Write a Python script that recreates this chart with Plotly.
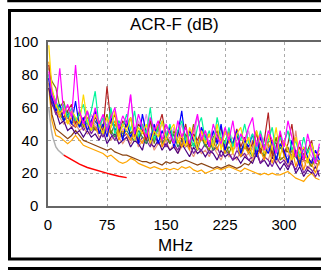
import plotly.graph_objects as go

# ---------------- data ----------------
freq = [1] + list(range(5, 350, 5))  # MHz, 70 points

magenta = [82, 68, 62, 84, 56, 62, 54, 86, 58, 50,
           58, 48, 60, 50, 56, 46, 54, 60, 47, 55,
           50, 68, 44, 56, 48, 42, 54, 46, 52, 40,
           50, 44, 38, 52, 42, 48, 38, 46, 56, 40,
           46, 36, 50, 42, 38, 48, 40, 52, 36, 44,
           40, 48, 54, 36, 44, 34, 46, 40, 32, 46,
           36, 52, 42, 30, 40, 28, 44, 34, 26, 38]
blue = [78, 66, 58, 62, 52, 56, 50, 64, 48, 54,
        46, 52, 58, 44, 50, 42, 54, 46, 50, 40,
        52, 42, 48, 38, 56, 44, 40, 50, 38, 46,
        40, 48, 36, 44, 58, 38, 46, 40, 34, 48,
        42, 36, 46, 38, 50, 34, 42, 38, 46, 32,
        40, 36, 44, 30, 42, 36, 32, 40, 28, 38,
        34, 26, 40, 32, 24, 36, 30, 26, 34, 28]
springgreen = [80, 70, 64, 58, 62, 54, 60, 52, 56, 62,
               50, 58, 70, 48, 54, 46, 60, 44, 52, 48,
               56, 46, 58, 42, 50, 44, 60, 40, 48, 52,
               42, 50, 38, 46, 52, 40, 44, 36, 48, 54,
               40, 46, 36, 54, 42, 38, 48, 36, 44, 40,
               50, 38, 44, 34, 46, 36, 40, 48, 32, 42,
               38, 46, 34, 40, 30, 42, 32, 38, 28, 36]
gold = [98, 72, 62, 56, 60, 50, 58, 54, 50, 68,
        52, 46, 56, 50, 44, 54, 48, 58, 42, 50,
        46, 54, 40, 48, 44, 50, 38, 46, 42, 52,
        40, 46, 50, 38, 44, 36, 48, 42, 34, 46,
        38, 44, 36, 50, 34, 46, 40, 32, 44, 48,
        36, 42, 30, 46, 38, 32, 44, 34, 48, 30,
        40, 34, 28, 42, 32, 36, 26, 38, 30, 34]
olive = [84, 76, 72, 60, 64, 54, 56, 50, 58, 48,
         54, 50, 46, 52, 48, 56, 44, 50, 46, 42,
         50, 44, 48, 40, 46, 42, 52, 38, 48, 40,
         44, 38, 46, 40, 36, 44, 38, 50, 36, 42,
         38, 34, 42, 46, 36, 40, 32, 38, 44, 34,
         38, 32, 36, 44, 34, 30, 38, 32, 42, 28,
         30, 36, 28, 34, 26, 32, 28, 24, 30, 26]
firebrick = [86, 70, 62, 58, 54, 58, 62, 50, 56, 52,
             58, 48, 54, 50, 46, 73, 50, 56, 44, 52,
             48, 54, 42, 50, 46, 40, 52, 44, 48, 56,
             42, 48, 38, 46, 40, 50, 36, 44, 40, 46,
             38, 44, 36, 42, 48, 34, 40, 38, 47, 36,
             42, 34, 38, 46, 32, 40, 57, 30, 36, 44,
             32, 38, 50, 30, 36, 28, 34, 40, 28, 32]
violet = [80, 68, 62, 58, 60, 54, 58, 50, 56, 52,
          48, 56, 50, 46, 54, 48, 58, 44, 52, 46,
          50, 68, 44, 52, 46, 56, 42, 48, 44, 50,
          46, 40, 48, 42, 50, 38, 44, 40, 55, 42,
          46, 38, 44, 40, 36, 46, 38, 42, 34, 44,
          38, 46, 34, 40, 36, 42, 34, 38, 32, 44,
          34, 30, 40, 32, 36, 28, 34, 30, 26, 32]
indigo = [72, 62, 58, 50, 52, 46, 48, 44, 46, 42,
          46, 42, 44, 40, 46, 38, 42, 44, 38, 40,
          42, 36, 40, 38, 34, 44, 38, 36, 40, 34,
          38, 34, 36, 32, 38, 34, 30, 36, 32, 34,
          30, 34, 32, 28, 34, 30, 32, 28, 30, 26,
          30, 28, 26, 32, 26, 28, 24, 30, 26, 22,
          26, 22, 28, 20, 24, 18, 22, 20, 24, 18]
salmon = [76, 62, 56, 54, 50, 52, 48, 50, 46, 48,
          44, 46, 48, 42, 44, 46, 40, 44, 42, 38,
          42, 38, 44, 36, 40, 38, 42, 34, 38, 36,
          40, 34, 38, 32, 36, 38, 34, 30, 36, 32,
          34, 30, 36, 32, 28, 34, 30, 32, 28, 34,
          30, 32, 28, 34, 26, 30, 28, 36, 26, 30,
          28, 24, 30, 46, 26, 28, 22, 28, 24, 26]
darkviolet = [78, 64, 56, 58, 52, 54, 50, 48, 52, 46,
              50, 44, 48, 46, 42, 48, 44, 40, 46, 42,
              44, 40, 46, 38, 42, 40, 36, 44, 38, 40,
              36, 42, 38, 34, 40, 36, 38, 32, 36, 34,
              38, 32, 34, 36, 30, 34, 32, 28, 34, 30,
              32, 28, 30, 34, 26, 30, 28, 24, 30, 26,
              28, 24, 26, 22, 28, 20, 24, 22, 18, 22]
orange_spiky = [88, 68, 60, 54, 58, 50, 54, 48, 52, 50,
                46, 52, 48, 44, 50, 42, 48, 52, 40, 46,
                44, 40, 48, 42, 38, 46, 40, 44, 50, 36,
                42, 46, 38, 44, 36, 42, 34, 48, 38, 40,
                44, 36, 40, 34, 42, 32, 46, 34, 38, 30,
                36, 32, 40, 30, 34, 28, 38, 26, 34, 44,
                30, 26, 36, 24, 32, 22, 30, 26, 20, 28]
seagreen = [80, 66, 60, 56, 52, 58, 50, 54, 48, 52,
            50, 46, 52, 48, 44, 50, 46, 42, 48, 44,
            46, 42, 40, 46, 42, 38, 44, 40, 46, 38,
            42, 38, 44, 36, 40, 42, 36, 38, 34, 42,
            36, 40, 34, 38, 42, 32, 36, 34, 38, 30,
            38, 34, 30, 38, 44, 30, 36, 32, 28, 36,
            32, 28, 34, 30, 26, 32, 28, 24, 30, 26]
orange_low = [72, 52, 43, 42, 40, 38, 40, 43, 40, 37,
              36, 35, 34, 33, 32, 30, 31, 29, 27, 26,
              27, 29, 28, 26, 25, 24, 23, 24, 23, 22,
              23, 22, 23, 22, 24, 23, 24, 22, 21, 22,
              20, 21, 22, 23, 22, 23, 24, 23, 22, 21,
              23, 22, 21, 20, 19, 20, 19, 20, 19, 19,
              20, 21, 19, 17, 16, 15, 18, 20, 17, 16]
brown = [75, 56, 47, 45, 43, 41, 43, 46, 43, 40,
         39, 38, 37, 36, 35, 34, 35, 33, 32, 31,
         31, 30, 29, 28, 27, 27, 26, 27, 26, 25,
         27, 26, 27, 26, 27, 28, 27, 26, 25, 26,
         25, 24, 23, 24, 23, 24, 25, 24, 23, 24,
         26, 25, 28, 32, 35, 37, 39, 40, 38, 36,
         34, 33, 31, 30, 29, 28, 27, 28, 26, 25]

limit_gray_f = [1, 2, 3, 4, 6, 8, 10, 13, 16, 20]
limit_gray_db = [60, 55, 50, 47, 42, 39, 36, 34, 32.5, 31]
limit_red_f = [20, 25, 30, 40, 50, 60, 70, 80, 90, 100]
limit_red_db = [31, 29.5, 28, 25.5, 23.5, 22, 20.5, 19.3, 18.2, 17.3]

x_ticks = [0, 75, 150, 225, 300]
y_ticks = [0, 20, 40, 60, 80, 100]
title_text = "ACR-F (dB)"
x_label = "MHz"

# ---------------- figure ----------------
series = [
    (orange_low, "#ffa500"), (brown, "#8b4513"),
    (salmon, "#e9967a"), (indigo, "#4b0082"), (darkviolet, "#7b1fa2"),
    (seagreen, "#2e8b57"), (olive, "#808000"), (orange_spiky, "#ff9900"),
    (violet, "#e08ae8"), (firebrick, "#b22222"), (blue, "#0000ff"),
    (springgreen, "#00f59a"), (gold, "#ffd700"), (magenta, "#ff00ff"),
]

fig = go.Figure()
fig.add_trace(go.Scatter(x=limit_gray_f, y=limit_gray_db, mode="lines",
                         line=dict(color="#b0b0b0", width=1.5), hoverinfo="skip"))
for vals, col in series:
    fig.add_trace(go.Scatter(x=freq, y=vals, mode="lines",
                             line=dict(color=col, width=1.2), hoverinfo="skip"))
fig.add_trace(go.Scatter(x=limit_red_f, y=limit_red_db, mode="lines",
                         line=dict(color="#ff0000", width=1.5), hoverinfo="skip"))

W, H = 321, 270
L, R, T, B = 48, 0, 42, 64
pw, ph = W - L - R, H - T - B


def px(xp):
    return (xp - L) / pw


def py(yp):
    return (H - B - yp) / ph


font_family = "Liberation Sans, Arial, sans-serif"
fig.update_layout(
    width=W, height=H,
    margin=dict(l=L, r=R, t=T, b=B, pad=0),
    paper_bgcolor="white", plot_bgcolor="white",
    showlegend=False,
    font=dict(family=font_family, color="black", size=15),
    xaxis=dict(range=[0, 347], tickvals=x_ticks, showgrid=True,
               gridcolor="#aaaaaa", griddash="dot", gridwidth=1,
               showline=True, linecolor="#666666", linewidth=1.5, mirror=True,
               ticks="outside", ticklen=4, tickcolor="rgba(0,0,0,0)",
               zeroline=False, tickfont=dict(size=15)),
    yaxis=dict(range=[0, 100], tickvals=y_ticks, showgrid=True,
               gridcolor="#aaaaaa", griddash="dot", gridwidth=1,
               showline=True, linecolor="#666666", linewidth=1.5,
               ticks="outside", ticklen=5, tickcolor="rgba(0,0,0,0)",
               zeroline=False, tickfont=dict(size=15)),
    annotations=[
        dict(text=title_text, x=px(174.5), y=py(24.5), xref="paper", yref="paper",
             showarrow=False, xanchor="center", yanchor="middle",
             font=dict(size=17, family=font_family)),
        dict(text=x_label, x=px(175), y=py(245), xref="paper", yref="paper",
             showarrow=False, xanchor="center", yanchor="middle",
             font=dict(size=17, family=font_family)),
    ],
    shapes=[
        dict(type="rect", xref="paper", yref="paper", x0=px(8.5), x1=px(400),
             y0=py(-60), y1=py(1), line=dict(color="black", width=2.5)),
        dict(type="rect", xref="paper", yref="paper", x0=px(9.5), x1=px(400),
             y0=py(259), y1=py(10.5), line=dict(color="black", width=3)),
        dict(type="rect", xref="paper", yref="paper", x0=px(9.5), x1=px(400),
             y0=py(330), y1=py(268.5), line=dict(color="black", width=3)),
    ],
)

fig.write_html(
    "out.html",
    config={"displayModeBar": False, "responsive": False},
    post_script="document.body.style.margin='0';document.body.style.overflow='hidden';"
                "document.documentElement.style.overflow='hidden';",
)
